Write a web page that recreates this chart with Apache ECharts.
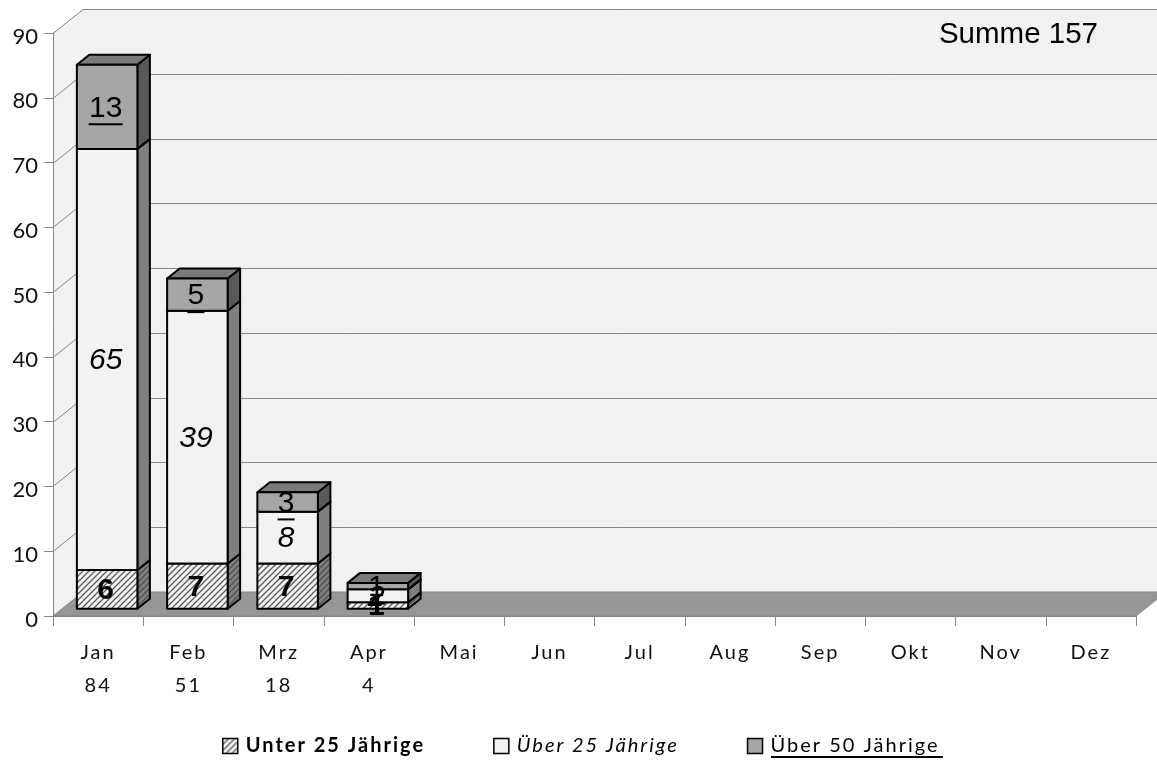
<!DOCTYPE html>
<html>
<head>
<meta charset="utf-8">
<style>
  html, body { margin: 0; padding: 0; background: #fff; }
  #chart { width: 1157px; height: 760px; }
</style>
<script src="https://cdn.jsdelivr.net/npm/echarts@6/dist/echarts.min.js"></script>
</head>
<body>
<div id="chart"></div>
<script>
  // werte aus dem bild
  const months = ['Jan', 'Feb', 'Mrz', 'Apr', 'Mai', 'Jun', 'Jul', 'Aug', 'Sep', 'Okt', 'Nov', 'Dez']
  const monthTotals = [84, 51, 18, 4]
  const under25 = [6, 7, 7, 1]
  const over25 = [65, 39, 8, 2]
  const over50 = [13, 5, 3, 1]
  const yTicks = [10, 20, 30, 40, 50, 60, 70, 80, 90]

  // 3d look
  const WALL_DX = 30, WALL_DY = -24
  const BAR_SHIFT_X = 9, BAR_SHIFT_Y = -7.2
  const BAR_W = 60.5, BAR_DX = 12.5, BAR_DY = -10
  const LINE = '#868686'

  // die achsen- und legendenschrift ist im original gesperrt, echarts kann das nicht
  const ctxProto = CanvasRenderingContext2D.prototype
  ;['fillText', 'measureText'].forEach(function (fn) {
    const orig = ctxProto[fn]
    ctxProto[fn] = function () {
      this.letterSpacing = /20px Lato/.test(this.font) ? '2px' : '0px'
      return orig.apply(this, arguments)
    }
  })

  function hatch (bg, stripe) {
    let c = document.createElement('canvas')
    c.width = 6
    c.height = 6
    let g = c.getContext('2d')
    g.fillStyle = bg
    g.fillRect(0, 0, 6, 6)
    g.strokeStyle = stripe
    g.lineWidth = 1.3
    g.beginPath()
    g.moveTo(-1, 7); g.lineTo(7, -1)
    g.moveTo(-1, 1); g.lineTo(1, -1)
    g.moveTo(5, 7); g.lineTo(7, 5)
    g.stroke()
    return { image: c, repeat: 'repeat' }
  }

  const hatchFront = hatch('#f4f4f4', '#5a5a5a')
  const hatchSide = hatch('#7f7f7f', '#505050')

  function renderWalls (params, api) {
    let cs = params.coordSys
    let x0 = cs.x, x1 = cs.x + cs.width
    let yBottom = api.coord([0, 0])[1]
    let yTop = api.coord([0, 90])[1]
    let farRight = x1 + WALL_DX
    let backX = x0 + WALL_DX
    let kids = [
      { type: 'polygon', shape: { points: [[backX, yTop + WALL_DY], [farRight, yTop + WALL_DY], [farRight, yBottom + WALL_DY], [backX, yBottom + WALL_DY]] }, style: { fill: '#f1f1f1', stroke: null } },
      { type: 'polygon', shape: { points: [[x0, yTop], [backX, yTop + WALL_DY], [backX, yBottom + WALL_DY], [x0, yBottom]] }, style: { fill: '#f1f1f1', stroke: null } }
    ]
    yTicks.forEach(function (v) {
      let y = Math.round(api.coord([0, v])[1]) + 0.5
      kids.push({ type: 'polyline', shape: { points: [[x0, y], [backX, y + WALL_DY], [farRight, y + WALL_DY]] }, style: { fill: null, stroke: LINE, lineWidth: 1 } })
    })
    kids.push({ type: 'polygon', shape: { points: [[x0, yBottom], [backX, yBottom + WALL_DY], [farRight, yBottom + WALL_DY], [x1, yBottom]] }, style: { fill: '#969696', stroke: LINE, lineWidth: 1 } })
    return { type: 'group', children: kids }
  }

  function barRenderer (faces) {
    return function (params, api) {
      let mid = api.coord([api.value(0), 0])[0] + BAR_SHIFT_X
      let yLow = api.coord([0, api.value(1)])[1] + BAR_SHIFT_Y
      let yHigh = api.coord([0, api.value(1) + api.value(2)])[1] + BAR_SHIFT_Y
      let l = mid - BAR_W / 2, r = mid + BAR_W / 2
      let edge = { stroke: '#000', lineWidth: 2, lineJoin: 'round' }
      return {
        type: 'group',
        children: [
          { type: 'polygon', shape: { points: [[r, yLow], [r + BAR_DX, yLow + BAR_DY], [r + BAR_DX, yHigh + BAR_DY], [r, yHigh]] }, style: Object.assign({ fill: faces.side }, edge) },
          { type: 'polygon', shape: { points: [[l, yHigh], [r, yHigh], [r + BAR_DX, yHigh + BAR_DY], [l + BAR_DX, yHigh + BAR_DY]] }, style: Object.assign({ fill: faces.top }, edge) },
          { type: 'polygon', shape: { points: [[l, yLow], [r, yLow], [r, yHigh], [l, yHigh]] }, style: Object.assign({ fill: faces.front }, edge) }
        ]
      }
    }
  }

  // zahlen liegen ueber allen balken, sonst verdeckt der naechste stapel sie
  function renderValue (fontStyle, underline) {
    return function (params, api) {
      let mid = api.coord([api.value(0), 0])[0] + BAR_SHIFT_X
      let yLow = api.coord([0, api.value(1)])[1] + BAR_SHIFT_Y
      let yHigh = api.coord([0, api.value(1) + api.value(2)])[1] + BAR_SHIFT_Y
      let y = (yLow + yHigh) / 2 + 1.5
      let text = String(api.value(2))
      let kids = [{
        type: 'text',
        style: { text: text, x: mid - 1.5, y: y, align: 'center', verticalAlign: 'middle', fill: '#000', font: fontStyle }
      }]
      if (underline) {
        let half = text.length * 8.5
        kids.push({ type: 'rect', shape: { x: mid - 1.5 - half, y: y + 15, width: half * 2, height: 2 }, style: { fill: '#000' } })
      }
      return { type: 'group', children: kids }
    }
  }

  function stackData (values, below) {
    return values.map(function (v, i) {
      let base = below.reduce(function (sum, arr) { return sum + arr[i] }, 0)
      return [i, base, v]
    })
  }

  const d1 = stackData(under25, [])
  const d2 = stackData(over25, [under25])
  const d3 = stackData(over50, [under25, over25])

  const NAME1 = 'Unter 25 Jährige', NAME2 = 'Über 25 Jährige', NAME3 = 'Über 50 Jährige'
  const NUM = '30px "Liberation Sans", Arial, sans-serif'

  function barSeries (name, data, faces, z) {
    return { name: name, type: 'custom', data: data, z: z, renderItem: barRenderer(faces), encode: { x: 0, y: [1, 2] }, itemStyle: { color: faces.front } }
  }
  function valueSeries (data, font, underline) {
    return { type: 'custom', data: data, z: 9, silent: true, renderItem: renderValue(font, underline), encode: { x: 0, y: [1, 2] } }
  }

  let chart = echarts.init(document.getElementById('chart'), null, { renderer: 'canvas' })
  chart.setOption({
    animation: false,
    backgroundColor: '#fff',
    grid: { left: 53, right: 21, top: 33, bottom: 144, containLabel: false },
    xAxis: {
      type: 'category',
      data: months,
      z: 3,
      axisLine: { lineStyle: { color: LINE, width: 1 } },
      axisTick: { show: true, alignWithLabel: false, length: 10, lineStyle: { color: LINE } },
      axisLabel: {
        interval: 0,
        margin: 20,
        color: '#111',
        fontFamily: 'Lato',
        fontSize: 20,
        lineHeight: 33,
        formatter: function (m, i) { return monthTotals[i] !== undefined ? m + '\n' + monthTotals[i] : m }
      }
    },
    yAxis: {
      type: 'value',
      min: 0,
      max: 90,
      interval: 10,
      z: 3,
      splitLine: { show: false },
      axisLine: { show: true, lineStyle: { color: LINE, width: 1 } },
      axisTick: { show: true, length: 9, lineStyle: { color: LINE } },
      axisLabel: { margin: 15, color: '#111', fontFamily: 'Lato', fontSize: 22, verticalAlign: 'top', lineHeight: 7 }
    },
    legend: {
      left: 217,
      top: 730,
      itemGap: 68,
      itemWidth: 15,
      itemHeight: 15,
      selectedMode: false,
      data: [
        { name: NAME1, icon: 'rect', itemStyle: { color: hatchFront, borderColor: '#000', borderWidth: 1.5 }, textStyle: { fontWeight: 'bold', fontFamily: 'Lato', fontSize: 20, color: '#000', padding: [0, 0, 0, 3] } },
        { name: NAME2, icon: 'rect', itemStyle: { color: '#f2f2f2', borderColor: '#000', borderWidth: 1.5 }, textStyle: { fontStyle: 'italic', fontFamily: 'Lato', fontSize: 20, color: '#000', padding: [0, 0, 0, 3] } },
        { name: NAME3, icon: 'rect', itemStyle: { color: '#a6a6a6', borderColor: '#000', borderWidth: 1.5 }, textStyle: { fontFamily: 'Lato', fontSize: 20, color: '#000', padding: [0, 0, 0, 3] } }
      ]
    },
    graphic: [
      { type: 'text', z: 10, style: { text: 'Summe 157', x: 1098, y: 35, align: 'right', verticalAlign: 'middle', fill: '#000', font: '29.5px "Liberation Sans", Arial, sans-serif' } },
      { type: 'rect', z: 10, shape: { x: 771, y: 756, width: 172, height: 2 }, style: { fill: '#000' } }
    ],
    series: [
      { type: 'custom', z: 1, silent: true, data: [[0, 0]], renderItem: renderWalls, clip: false },
      barSeries(NAME1, d1, { front: hatchFront, side: hatchSide, top: '#7a7a7a' }, 4),
      barSeries(NAME2, d2, { front: '#f2f2f2', side: '#7f7f7f', top: '#7a7a7a' }, 5),
      barSeries(NAME3, d3, { front: '#a6a6a6', side: '#595959', top: '#7a7a7a' }, 6),
      valueSeries(d1, 'bold ' + NUM, false),
      valueSeries(d2, 'italic ' + NUM, false),
      valueSeries(d3, NUM, true)
    ]
  })
</script>
</body>
</html>
